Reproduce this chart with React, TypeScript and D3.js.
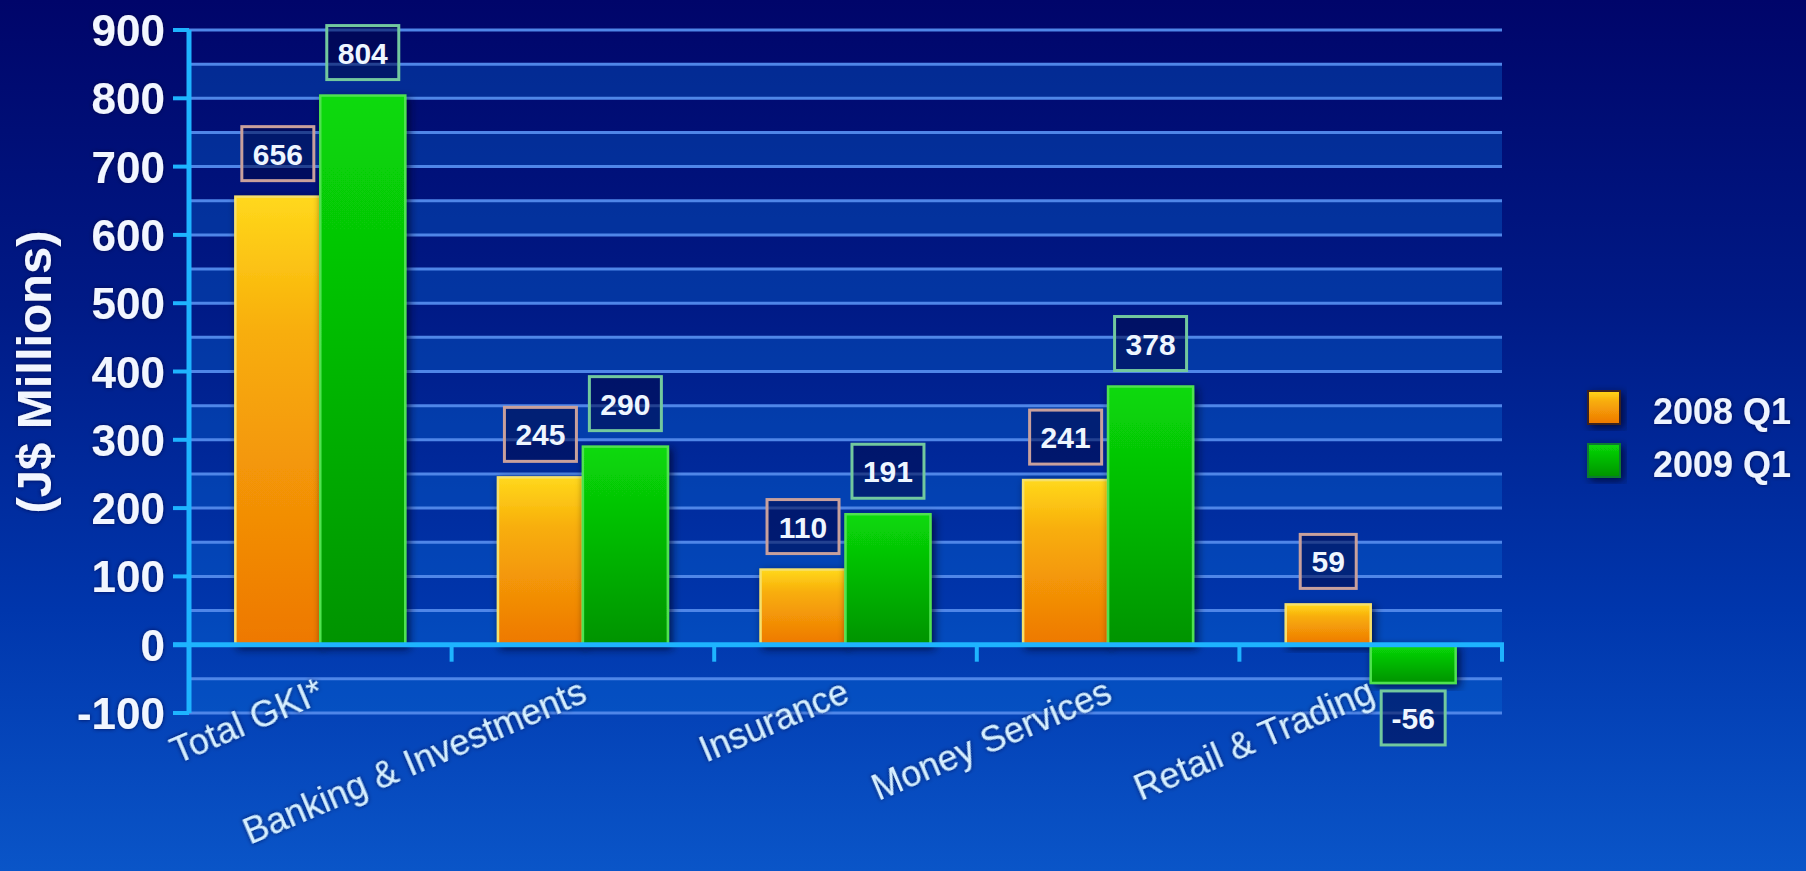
import React from 'react';
import * as d3 from 'd3';

// chart data
const categories = ['Total GKI*', 'Banking & Investments', 'Insurance', 'Money Services', 'Retail & Trading'];
const seriesNames = ['2008 Q1', '2009 Q1'];
const values2008 = [656, 245, 110, 241, 59];
const values2009 = [804, 290, 191, 378, -56];
const yTicks = [-100, 0, 100, 200, 300, 400, 500, 600, 700, 800, 900];

const W = 1806;
const H = 871;
const plot = { left: 189, right: 1502, top: 30, bottom: 713 };
const font = '"Liberation Sans", Arial, Helvetica, sans-serif';

const seriesStyle = [
  { fill: 'url(#gOrange)', stroke: '#f6e06a', box: '#c8a09c' },
  { fill: 'url(#gGreen)', stroke: '#4fe24f', box: '#72c89e' },
];

export default function App() {
  const y = d3.scaleLinear().domain([-100, 900]).range([plot.bottom, plot.top]);
  const x0 = d3.scaleBand<string>().domain(categories).range([plot.left, plot.right]);
  const bw = x0.bandwidth();
  const x1 = d3.scaleBand<string>().domain(seriesNames).range([bw * 0.1765, bw * 0.8235]);
  const barW = x1.bandwidth();

  const gridVals = d3.range(-100, 901, 50);
  const bandVals = d3.range(-100, 900, 100);
  const series = [values2008, values2009];

  const boxWidth = (v: number) => {
    const s = String(Math.abs(v));
    return 24 + s.length * 16 + (v < 0 ? 8 : 0);
  };

  return (
    <svg width={W} height={H} style={{ position: 'absolute', left: 0, top: 0 }} fontFamily={font}>
      <defs>
        <linearGradient id="bg" x1="0" y1="0" x2="0" y2="1">
          <stop offset="0" stopColor="#00056a" />
          <stop offset="0.35" stopColor="#001a86" />
          <stop offset="0.7" stopColor="#0036ac" />
          <stop offset="1" stopColor="#0a55c8" />
        </linearGradient>
        <linearGradient id="gOrange" x1="0" y1="0" x2="0" y2="1">
          <stop offset="0" stopColor="#ffd81c" />
          <stop offset="0.3" stopColor="#f8ae0a" />
          <stop offset="1" stopColor="#ee7803" />
        </linearGradient>
        <linearGradient id="gGreen" x1="0" y1="0" x2="0" y2="1">
          <stop offset="0" stopColor="#08da08" />
          <stop offset="1" stopColor="#009300" />
        </linearGradient>
        <filter id="shadow" x="-20%" y="-20%" width="140%" height="140%">
          <feDropShadow dx="3" dy="3" stdDeviation="4" floodColor="#000520" floodOpacity="0.75" />
        </filter>
        <filter id="glow" x="-5%" y="-5%" width="110%" height="110%">
          <feDropShadow dx="0" dy="0" stdDeviation="2" floodColor="#000a40" floodOpacity="0.8" />
        </filter>
      </defs>

      <rect width={W} height={H} fill="url(#bg)" />

      {/* alternating plot bands */}
      {bandVals.map((v) => (
        <rect
          key={'b' + v}
          x={plot.left}
          y={y(v + 50)}
          width={plot.right - plot.left}
          height={y(v) - y(v + 50)}
          fill="#0a6ad8"
          fillOpacity={0.35}
        />
      ))}

      {/* gridlines */}
      {gridVals.map((v) => (
        <line key={'g' + v} x1={plot.left} x2={plot.right} y1={y(v)} y2={y(v)} stroke="#4f86e8" strokeWidth={3} />
      ))}

      {/* bars */}
      {categories.map((c, i) =>
        seriesNames.map((s, j) => {
          const v = series[j][i];
          const bx = (x0(c) as number) + (x1(s) as number);
          return (
            <rect
              key={c + s}
              x={bx}
              y={y(Math.max(v, 0))}
              width={barW}
              height={Math.abs(y(v) - y(0))}
              fill={seriesStyle[j].fill}
              stroke={seriesStyle[j].stroke}
              strokeWidth={2.5}
              filter="url(#shadow)"
            />
          );
        })
      )}

      {/* axes */}
      <line x1={plot.left} x2={plot.left} y1={plot.top} y2={plot.bottom} stroke="#1eb4ff" strokeWidth={5} />
      {yTicks.map((t) => (
        <line key={'yt' + t} x1={plot.left - 16} x2={plot.left} y1={y(t)} y2={y(t)} stroke="#1eb4ff" strokeWidth={4} />
      ))}
      <line x1={plot.left - 16} x2={plot.right + 2} y1={y(0)} y2={y(0)} stroke="#1eb4ff" strokeWidth={5} />
      {categories.map((c) => (
        <line
          key={'xt' + c}
          x1={(x0(c) as number) + bw}
          x2={(x0(c) as number) + bw}
          y1={y(0)}
          y2={y(0) + 17}
          stroke="#1eb4ff"
          strokeWidth={4}
        />
      ))}

      {/* value label boxes */}
      {categories.map((c, i) =>
        seriesNames.map((s, j) => {
          const v = series[j][i];
          const cx = (x0(c) as number) + (x1(s) as number) + barW / 2;
          const bwid = boxWidth(v);
          const bh = 54;
          const top = v >= 0 ? y(v) - 16 - bh : y(v) + 8;
          return (
            <g key={'l' + c + s}>
              <rect
                x={cx - bwid / 2}
                y={top}
                width={bwid}
                height={bh}
                fill="#000a48"
                fillOpacity={0.55}
                stroke={seriesStyle[j].box}
                strokeWidth={3}
              />
              <text
                x={cx}
                y={top + bh / 2 + 11}
                textAnchor="middle"
                fontSize={30}
                fontWeight="bold"
                fill="#eef6ff"
              >
                {v}
              </text>
            </g>
          );
        })
      )}

      {/* y tick labels */}
      {yTicks.map((t) => (
        <text
          key={'yl' + t}
          x={plot.left - 24}
          y={y(t) + 16}
          textAnchor="end"
          fontSize={44}
          fontWeight="bold"
          fill="#f2f6ff"
          filter="url(#glow)"
        >
          {t}
        </text>
      ))}

      {/* y axis title */}
      <text
        transform="translate(51,372) rotate(-90)"
        textAnchor="middle"
        fontSize={49}
        fontWeight="bold"
        fill="#f2f6ff"
        filter="url(#glow)"
      >
        (J$ Millions)
      </text>

      {/* category labels */}
      {categories.map((c) => (
        <text
          key={'xl' + c}
          transform={`translate(${(x0(c) as number) + bw / 2 + 6},${y(-100) - 12}) rotate(-23)`}
          textAnchor="end"
          fontSize={36}
          fill="#d6efff"
          filter="url(#glow)"
        >
          {c}
        </text>
      ))}

      {/* legend */}
      {seriesNames.map((s, j) => (
        <g key={'lg' + s} transform={`translate(1588,${391 + j * 53})`}>
          <rect width={32} height={33} fill={seriesStyle[j].fill} stroke={j === 0 ? '#3a2020' : '#0a7a30'} strokeWidth={2} filter="url(#shadow)" />
          <text x={65} y={33} fontSize={36} fontWeight="bold" fill="#eef4ff" filter="url(#glow)">
            {s}
          </text>
        </g>
      ))}
    </svg>
  );
}
